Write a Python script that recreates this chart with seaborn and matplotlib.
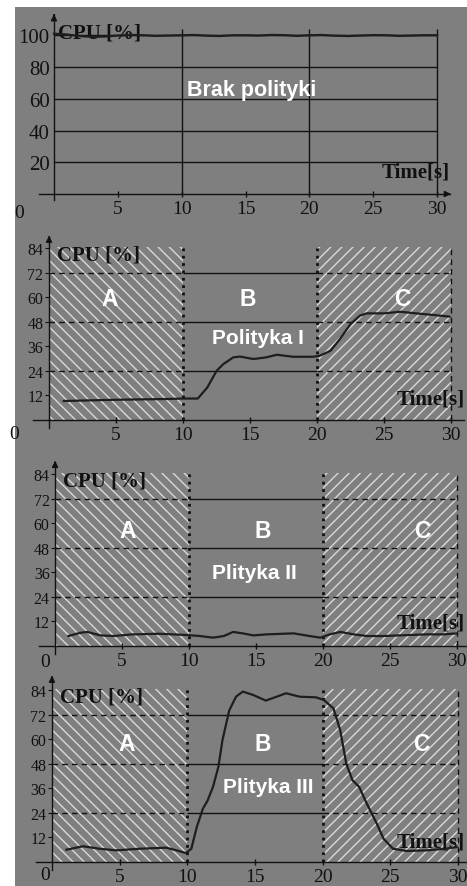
import matplotlib
matplotlib.use("Agg")
import matplotlib.pyplot as plt
import seaborn as sns
from matplotlib.patches import Rectangle

# ---- dane ----
czas_0 = [0, 1, 2, 3, 4, 5, 6, 7, 8, 9, 10, 11, 12, 13, 14, 15, 16, 17, 18, 19,
          20, 21, 22, 23, 24, 25, 26, 27, 28, 29, 30]
cpu_0 = [101, 100.5, 99.5, 99, 99.2, 99.8, 100.2, 100, 99.6, 99.8, 100, 100.2, 99.7,
         99.5, 100, 100, 99.8, 100.2, 100.1, 99.6, 100, 100.2, 99.7, 99.5, 99.8,
         100.1, 100, 99.6, 99.8, 100, 100]

czas_1 = [1.1, 3, 5, 7, 9, 10, 11.1, 11.8, 12.5, 13.0, 13.75, 14.25, 15.25, 16.2, 17,
          18.2, 19.7, 20.2, 21, 21.7, 22.5, 23.2, 23.7, 25, 26.2, 27.4, 28.7, 29.9]
cpu_1 = [9.3, 9.6, 9.9, 10.1, 10.3, 10.5, 10.5, 15.8, 24, 27.3, 30.6, 31, 29.8, 30.6,
         31.9, 30.9, 30.9, 31.4, 33.8, 39.5, 46.9, 51, 52.1, 52.1, 52.9, 52.1, 51.3, 50.5]

czas_2 = [1, 1.9, 2.4, 3.4, 4.35, 5.8, 7.8, 9.8, 10.8, 11.8, 12.6, 13.3, 14, 14.8, 15.8,
          17.8, 19, 19.8, 20.5, 21.3, 22.3, 23.3, 24.5, 25.7, 27.7, 29, 30]
cpu_2 = [4.9, 6.5, 6.9, 5.2, 4.9, 5.7, 6.0, 5.4, 4.9, 4.1, 4.9, 6.9, 6.2, 5.2, 5.7,
         6.2, 4.9, 4.1, 5.7, 6.9, 5.7, 4.9, 4.9, 5.2, 5.7, 5.7, 6.2]

czas_3 = [1.06, 2.3, 3.5, 4.75, 6.5, 8.45, 9.2, 9.9, 10.3, 10.7, 11.15, 11.5, 11.9, 12.3,
          12.6, 13.1, 13.6, 14.1, 14.85, 15.8, 16.6, 17.3, 18.3, 19.5, 20.1, 20.8, 21.3,
          21.75, 22.2, 22.7, 23.2, 24, 24.5, 25.2, 26.2, 27.7, 29.1, 29.9]
cpu_3 = [6.0, 7.7, 6.5, 5.7, 6.5, 7.0, 5.7, 4.4, 6.5, 17, 26, 30, 36.7, 46.5, 59.5, 74,
         80.7, 83.2, 81.6, 78.8, 80.7, 82.4, 80.7, 80.4, 79.1, 75, 64.4, 48, 40, 36.7,
         29.4, 18.8, 11.4, 6.5, 5.4, 5.7, 6.5, 7.3]

tytuly = ["Brak polityki", "Polityka I", "Plityka II", "Plityka III"]
strefy = ["A", "B", "C"]
strefy_od = [0, 10, 20]
strefy_do = [10, 20, 30]
yticks_0 = [20, 40, 60, 80, 100]
yticks_n = [12, 24, 36, 48, 60, 72, 84]
xticks = [5, 10, 15, 20, 25, 30]

TLO = "#7f7f7f"
SERIF = "Liberation Serif"
SANS = "Liberation Sans"
CZARNY = "#111111"
plt.rcParams["hatch.linewidth"] = 1.0

fig = plt.figure(figsize=(4.67, 8.87), dpi=100)
fig.patch.set_facecolor(TLO)
fig.patches.append(Rectangle((0, 0), 15 / 467, 1, transform=fig.transFigure,
                             facecolor="white", edgecolor="none", zorder=-1))
fig.patches.append(Rectangle((0, 1 - 8 / 887), 1, 8 / 887, transform=fig.transFigure,
                             facecolor="white", edgecolor="none", zorder=-1))

H = 887.0
W = 467.0
# (gora px, dol px, xlim, ylim, strzalka y, offset "0")
panele = [
    (8, 225, (-3.05, 32.34), (-18.9, 117.8), 113, (-25, -13)),
    (230, 445, (-2.54, 31.19), (-11.7, 93.3), 89.4, (-25, -10)),
    (448, 662, (-2.99, 30.75), (-7.3, 97.2), 89.8, (-7, -11)),
    (668, 887, (-2.73, 30.67), (-11.7, 95.2), 90.3, (-5, -9)),
]
dane = [(czas_0, cpu_0), (czas_1, cpu_1), (czas_2, cpu_2), (czas_3, cpu_3)]
time_pos = [(31, 14), (31, 10.3), (30.55, 11.7), (30.5, 9.8)]

for i, (gora, dol, xl, yl, strz, off0) in enumerate(panele):
    ax = fig.add_axes([15 / W, 1 - dol / H, 452 / W, (dol - gora) / H])
    ax.set_facecolor("none")
    ax.set_xlim(*xl)
    ax.set_ylim(*yl)
    for s in ["top", "right"]:
        ax.spines[s].set_visible(False)
    ax.spines["left"].set_position(("data", 0))
    ax.spines["bottom"].set_position(("data", 0))
    ax.spines["left"].set_bounds(-4, strz)
    ax.spines["bottom"].set_bounds(-1.2, 31)
    for s in ["left", "bottom"]:
        ax.spines[s].set_color(CZARNY)
        ax.spines[s].set_linewidth(1.0)
    ax.annotate("", xy=(0, strz + 2), xytext=(0, strz - 2),
                arrowprops=dict(arrowstyle="-|>", color=CZARNY, lw=1, mutation_scale=9))
    ax.annotate("", xy=(31.3, 0), xytext=(30.5, 0),
                arrowprops=dict(arrowstyle="-|>", color=CZARNY, lw=1, mutation_scale=9))

    ax.set_xticks(xticks)
    ax.set_xticklabels([str(v) for v in xticks], family=SERIF, fontsize=14)
    ax.tick_params(axis="x", direction="inout", length=5, width=1, pad=2, colors=CZARNY)

    if i == 0:
        ax.set_yticks(yticks_0)
        ax.set_yticklabels([str(v) for v in yticks_0], family=SERIF, fontsize=15)
        ax.tick_params(axis="y", length=0, pad=3, colors=CZARNY)
        ax.hlines(yticks_0, 0, 30, colors=CZARNY, linewidth=1)
        ax.vlines([10, 20, 30], 0, 104, colors=CZARNY, linewidth=1)
        ax.text(15.5, 66, tytuly[i], color="white", family=SANS, weight="bold",
                fontsize=15.5, ha="center", va="center")
        ax.text(0.3, 101.5, "CPU [%]", family=SERIF, weight="bold", fontsize=15,
                color=CZARNY, ha="left", va="center")
    else:
        ax.set_yticks(yticks_n)
        ax.set_yticklabels([str(v) for v in yticks_n], family=SERIF, fontsize=11.5)
        ax.tick_params(axis="y", direction="out", length=3, pad=1, colors=CZARNY)
        ax.fill_between([0, 10], 0, 84.5, facecolor="none", edgecolor=(1, 1, 1, 0.7),
                        hatch="\\\\\\", linewidth=0)
        ax.fill_between([20, 30], 0, 84.5, facecolor="none", edgecolor=(1, 1, 1, 0.7),
                        hatch="///", linewidth=0)
        for od, do, nazwa in zip(strefy_od, strefy_do, strefy):
            styl = "-" if nazwa == "B" else (0, (4, 3))
            ax.hlines([24, 48, 72], od, do, colors=CZARNY, linewidth=1, linestyles=[styl])
        ax.vlines([10, 20], 0, 84.5, colors=CZARNY, linewidth=2, linestyles=":")
        ax.vlines([30], 0, 84.5, colors=CZARNY, linewidth=1, linestyles=(0, (4, 3)))
        pos_x = [[4.55, 14.8, 26.4], [5.4, 15.5, 27.4], [5.5, 15.6, 27.3]][i - 1]
        pos_y = [59.6, 56.6, 58][i - 1]
        for px, nazwa in zip(pos_x, strefy):
            ax.text(px, pos_y, nazwa, color="white", family=SANS, weight="bold",
                    fontsize=16.5, ha="center", va="center")
        tx, ty = [(15.6, 40.5), (14.9, 36.1), (16, 37)][i - 1]
        ax.text(tx, ty, tytuly[i], color="white", family=SANS, weight="bold",
                fontsize=15, ha="center", va="center")
        ax.text(0.6, 81, "CPU [%]", family=SERIF, weight="bold", fontsize=15,
                color=CZARNY, ha="left", va="center")

    ax.text(time_pos[i][0], time_pos[i][1], "Time[s]", family=SERIF, weight="bold",
            fontsize=15, color=CZARNY, ha="right", va="center")
    ax.annotate("0", xy=(0, 0), xytext=off0, textcoords="offset points",
                family=SERIF, fontsize=14, color=CZARNY, ha="center", va="center")

    x, y = dane[i]
    sns.lineplot(x=x, y=y, ax=ax, color="#1e1e1e", linewidth=1.6, zorder=5)
    ax.set_xlabel("")
    ax.set_ylabel("")

fig.savefig("out.png", dpi=100, facecolor=TLO)
